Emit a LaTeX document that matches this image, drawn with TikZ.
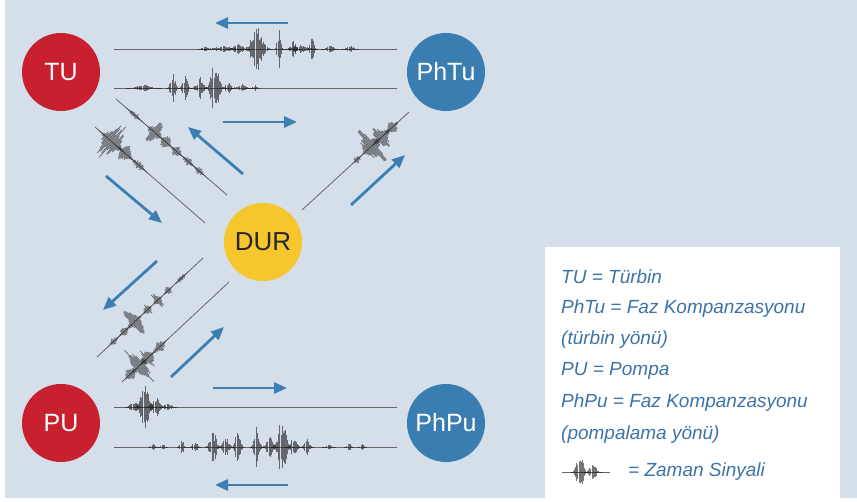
\documentclass[tikz,border=0pt]{standalone}
\usepackage{fontspec}
\setmainfont{Liberation Sans}
\usetikzlibrary{arrows.meta}
\definecolor{bgblue}{HTML}{D5DFEA}
\definecolor{tured}{HTML}{C8202E}
\definecolor{phblue}{HTML}{3A7DB1}
\definecolor{duryellow}{HTML}{F6C62D}
\definecolor{flowblue}{HTML}{3C7FB3}
\definecolor{legtext}{HTML}{3E73A7}
\tikzset{
	unit/.style={circle,minimum size=78pt,inner sep=0pt,text=white,font=\fontsize{25}{25}\selectfont},
	turb/.style={unit,fill=tured},
	phase/.style={unit,fill=phblue},
	dur/.style={unit,fill=duryellow,text=black!85,font=\fontsize{26}{26}\selectfont},
	flow/.style={flowblue,line width=2.8pt,-{Triangle[length=13pt,width=11pt]}},
	sigbase/.style={draw=black!60,line width=0.8pt},
	sigtick/.style={draw=black!90,line width=0.75pt,draw opacity=0.6},
	legend/.style={anchor=west,text=legtext,inner sep=0pt,font=\fontsize{19}{19}\selectfont\itshape}
}
% time signal along the line from #1 to #2, bursts given as centre/spread/amplitude
\newcommand\sigwave[3]{%
	\draw[sigbase] (#1) -- (#2);
	\pgfpointdiff{\pgfpointanchor{#1}{center}}{\pgfpointanchor{#2}{center}}%
	\pgfgetlastxy\wdx\wdy
	\pgfmathsetmacro\wang{atan2(\wdy,\wdx)}%
	\begin{scope}[shift={(#1)},rotate=\wang]
		\foreach \bc/\bs/\ba in {#3}{
			\pgfmathtruncatemacro\kn{round(2.2*\bs/1.1)}
			\pgfmathtruncatemacro\km{-\kn}
			\foreach \k in {\km,...,\kn}{
				\pgfmathsetmacro\kx{\bc+\k*1.1}
				\pgfmathsetmacro\kh{\ba*exp(0-(\k*1.1/\bs)*(\k*1.1/\bs))*(0.45+0.75*rnd)}
				\draw[sigtick] (\kx,-\kh) -- (\kx,\kh);
			}
		}
	\end{scope}
}

\begin{document}
\begin{tikzpicture}[x=1pt,y=-1pt]
	\pgfmathsetseed{11}
	\useasboundingbox (0,0) rectangle (857,502);
	\fill[white] (0,0) rectangle (857,502);
	\fill[bgblue] (5,0) rectangle (857,498);
	\fill[white] (545,247) rectangle (840,502);

	% signal lines
	\coordinate (t1a) at (114,49);  \coordinate (t1b) at (397,49);
	\coordinate (t2a) at (114,88);  \coordinate (t2b) at (397,88);
	\coordinate (dAa) at (116,99);  \coordinate (dAb) at (227,195);
	\coordinate (dBa) at (95,127);  \coordinate (dBb) at (205,223);
	\coordinate (dRa) at (302,210); \coordinate (dRb) at (409,112);
	\coordinate (dCa) at (203,258); \coordinate (dCb) at (97,357);
	\coordinate (dDa) at (229,282); \coordinate (dDb) at (122,382);
	\coordinate (b1a) at (114,407); \coordinate (b1b) at (397,407);
	\coordinate (b2a) at (114,447); \coordinate (b2b) at (397,447);
	\coordinate (lga) at (562,472); \coordinate (lgb) at (610,472);

	\sigwave{t1a}{t1b}{91/3/3,110/10/3,124/5/6,143/7/20,165/2/17,179/3/8,186/8/4,198/2/13,216/4/3,236/4/3}
	\sigwave{t2a}{t2b}{30/8/3,59/3/13,71/3/11,86/4/10,101/5/22,114/3/6,128/6/3,141/2/4}
	\sigwave{dAa}{dAb}{25/6/3,51/5/11,66/4/7,80/4/6,95/5/4,110/5/3}
	\sigwave{dBa}{dBb}{22/8/18,40/6/8,58/6/4}
	\sigwave{dRa}{dRb}{75/3/4,94/6/20,108/6/12,122/5/6}
	\sigwave{dCa}{dCb}{30/5/3,48/3/5,62/3/8,76/3/7,94/5/13,108/4/5,122/4/3}
	\sigwave{dDa}{dDb}{95/6/5,112/5/10,123/5/18,135/4/7}
	\sigwave{b1a}{b1b}{20/4/6,31/5/22,42/5/9,54/4/4}
	\sigwave{b2a}{b2b}{39/2/3,49/2/3,68/2/8,81/3/4,99/4/14,112/4/8,124/3/15,143/3/20,156/4/9,168/5/23,180/4/8,193/3/7,215/3/3,235/2/4,248/2/3}
	\sigwave{lga}{lgb}{18/4/16,31/4/6}

	% arrows
	\coordinate (f1a) at (288,23);  \coordinate (f1b) at (215,23);
	\coordinate (f2a) at (223,122); \coordinate (f2b) at (297,122);
	\coordinate (f3a) at (243,174); \coordinate (f3b) at (188,127);
	\coordinate (f4a) at (106,176); \coordinate (f4b) at (162,223);
	\coordinate (f5a) at (351,205); \coordinate (f5b) at (405,155);
	\coordinate (f6a) at (157,261); \coordinate (f6b) at (103,310);
	\coordinate (f7a) at (171,377); \coordinate (f7b) at (224,327);
	\coordinate (f8a) at (213,388); \coordinate (f8b) at (287,388);
	\coordinate (f9a) at (288,485); \coordinate (f9b) at (215,485);
	\foreach \i in {1,...,9}
		\draw[flow] (f\i a) -- (f\i b);

	% units
	\node [turb] (TU) at (61,72) {TU};
	\node [phase] (PhTu) at (446,72) {PhTu};
	\node [dur] (DUR) at (263,242) {DUR};
	\node [turb] (PU) at (61,423) {PU};
	\node [phase] (PhPu) at (446,423) {PhPu};

	% legend
	\node [legend] (leg1) at (561,277) {TU = Türbin};
	\node [legend] (leg2) at (561,309) {PhTu = Faz Kompanzasyonu};
	\node [legend] (leg3) at (561,340) {(türbin yönü)};
	\node [legend] (leg4) at (561,371) {PU = Pompa};
	\node [legend] (leg5) at (561,403) {PhPu = Faz Kompanzasyonu};
	\node [legend] (leg6) at (561,435) {(pompalama yönü)};
	\node [legend] (leg7) at (628,472) {= Zaman Sinyali};
\end{tikzpicture}
\end{document}
